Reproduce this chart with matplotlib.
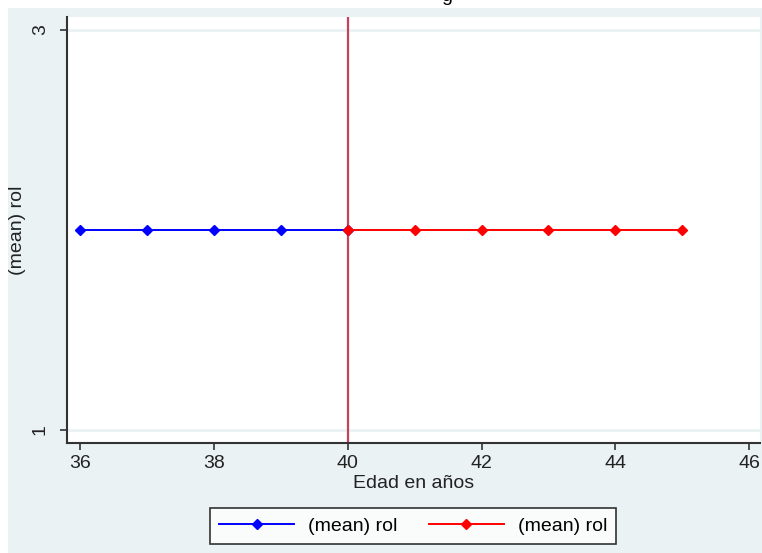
import matplotlib
matplotlib.use("Agg")
import matplotlib.pyplot as plt
from matplotlib.patches import Rectangle
from matplotlib.lines import Line2D

plt.rcParams['font.family'] = ['Liberation Sans', 'DejaVu Sans']

# data
edad_blue = [36, 37, 38, 39, 40]
rol_blue = [2, 2, 2, 2, 2]
edad_red = [40, 41, 42, 43, 44, 45]
rol_red = [2, 2, 2, 2, 2, 2]
xticks = [36, 38, 40, 42, 44, 46]
yticks = [1, 3]
cutoff = 40

bg = '#eaf2f3'
W, H = 762, 553
fs = 14

fig = plt.figure(figsize=(W / 100, H / 100), dpi=100, facecolor='white')
fig.patches.append(Rectangle((8 / W, 0), 1, 1 - 8 / H, transform=fig.transFigure,
                             facecolor=bg, edgecolor='none', zorder=-5))

ax = fig.add_axes([67 / W, 1 - 443 / H, (760 - 67) / W, (443 - 17) / H])
ax.set_facecolor('white')
ax.set_xlim(35.806, 46.16)
ax.set_ylim(0.935, 3.065)

for yv in yticks:
    ax.axhline(yv, color=bg, lw=2, zorder=1)
ax.axvline(cutoff, color='#c8405a', lw=1.6, zorder=2)

ax.plot(edad_blue, rol_blue, color='blue', lw=1.4, marker='D', ms=5.5, zorder=3)
ax.plot(edad_red, rol_red, color='red', lw=1.4, marker='D', ms=5.5, zorder=3)

ax.set_xticks(xticks)
ax.set_yticks(yticks)
ax.tick_params(axis='both', length=5, width=1.2, color='#333333', labelsize=fs, labelcolor='#222222')
ax.tick_params(axis='y', pad=8)
ax.tick_params(axis='x', pad=4)
for lab in ax.get_yticklabels():
    lab.set_rotation(90)
    lab.set_va('center')

for s in ['top', 'right']:
    ax.spines[s].set_visible(False)
for s in ['left', 'bottom']:
    ax.spines[s].set_color('#333333')
    ax.spines[s].set_linewidth(1.5)

ax.set_ylabel('(mean) rol', fontsize=fs, color='#222222')
ax.yaxis.set_label_coords(-49 / (760 - 67), 0.5)
ax.set_xlabel('Edad en años', fontsize=fs, color='#222222')
ax.xaxis.set_label_coords(0.5, -(483 - 443) / (443 - 17))
ax.xaxis.label.set_va('center')
ax.yaxis.label.set_va('center')

handles = [Line2D([], [], color='blue', lw=1.4, marker='D', ms=5.5),
           Line2D([], [], color='red', lw=1.4, marker='D', ms=5.5)]
leg = fig.legend(handles, ['(mean) rol', '(mean) rol'], loc='center',
                 bbox_to_anchor=(413 / W, 1 - 526 / H), ncol=2, fontsize=fs,
                 frameon=True, fancybox=False, handlelength=3.9, columnspacing=1.6,
                 borderpad=0.45, handletextpad=0.7, borderaxespad=0)
leg.get_frame().set_edgecolor('black')
leg.get_frame().set_linewidth(1.2)
leg.get_frame().set_facecolor('white')

# cut-off title at the top
fig.text(447 / W, 1 - 1 / H, 'g', ha='center', va='baseline', fontsize=14, color='black')

fig.savefig('out.png', dpi=100, facecolor='white')
